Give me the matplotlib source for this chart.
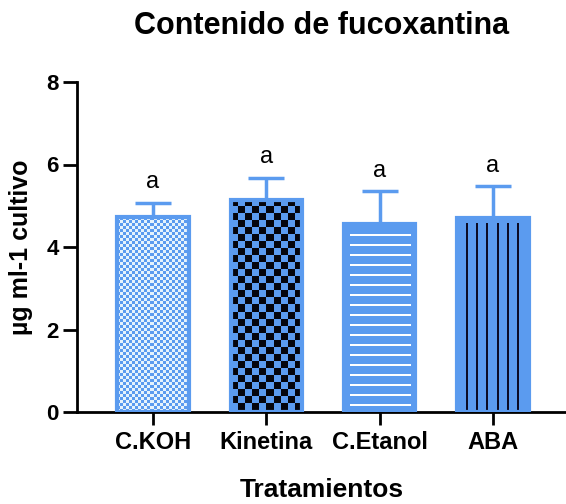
import numpy as np
import matplotlib
matplotlib.use('Agg')
import matplotlib.pyplot as plt
from matplotlib.colors import to_rgb

tratamientos = ['C.KOH', 'Kinetina', 'C.Etanol', 'ABA']
fucoxantina = [4.72, 5.14, 4.55, 4.70]
desviacion = [0.35, 0.54, 0.80, 0.77]
letras = ['a', 'a', 'a', 'a']
patrones = ['fino', 'grueso', 'horizontal', 'vertical']
marcas_y = [0, 2, 4, 6, 8]

azul = '#5B9BEF'
plt.rcParams['font.family'] = ['Liberation Sans', 'DejaVu Sans']


def textura(tipo, w, h):
    # relleno de cada barra, en pixeles (fila 0 = arriba)
    yy, xx = np.mgrid[0:h, 0:w]
    img = np.zeros((h, w, 3))
    img[:] = to_rgb(azul)
    if tipo == 'fino':
        m = ((xx // 3 + yy // 3) % 2 == 0)
        img[m] = to_rgb('#E6F3FC')
    elif tipo == 'grueso':
        m = ((xx // 7 + yy // 7) % 2 == 0)
        img[m] = (0.02, 0.02, 0.05)
    elif tipo == 'horizontal':
        m = ((yy % 10) < 2) & (yy > 8) & (xx > 5) & (xx < w - 5)
        img[m] = (1, 1, 1)
    elif tipo == 'vertical':
        m = (((xx - 9) % 10) < 2) & (xx > 7) & (yy > 4)
        img[m] = (0.05, 0.05, 0.15)
    return img


fig = plt.figure(figsize=(5.66, 5.04), dpi=100)
ax = fig.add_axes([76.7 / 566, 1 - 412 / 504, 1 - 76.7 / 566, 330 / 504])

x = np.arange(len(tratamientos))
ancho = 0.63
ax.set_xlim(-0.673, 3.645)
ax.set_ylim(0, 8)

barras = ax.bar(x, fucoxantina, width=ancho, facecolor='none', edgecolor=azul,
                linewidth=3, zorder=3)
ax.errorbar(x, fucoxantina, yerr=[np.zeros(len(x)), desviacion], fmt='none',
            ecolor=azul, elinewidth=2.5, capsize=13, capthick=2.5, zorder=2)

for barra, tipo in zip(barras, patrones):
    x0, x1 = barra.get_x(), barra.get_x() + barra.get_width()
    y1 = barra.get_height()
    p0 = ax.transData.transform((x0, 0))
    p1 = ax.transData.transform((x1, y1))
    w = int(round(p1[0] - p0[0]))
    h = int(round(p1[1] - p0[1]))
    ax.imshow(textura(tipo, w, h), extent=(x0, x1, 0, y1), origin='upper',
              interpolation='nearest', aspect='auto', zorder=2.5)

for xi, m, s, letra in zip(x, fucoxantina, desviacion, letras):
    ax.annotate(letra, (xi, m + s), xytext=(0, 7), textcoords='offset points',
                ha='center', va='bottom', fontsize=17)

ax.spines['top'].set_visible(False)
ax.spines['right'].set_visible(False)
ax.spines['left'].set_linewidth(2)
ax.spines['bottom'].set_linewidth(2)
ax.spines['left'].set_bounds(0, 8)

ax.set_yticks(marcas_y, labels=[str(v) for v in marcas_y],
              fontsize=16, fontweight='bold')
ax.set_xticks(x, labels=tratamientos, fontsize=17, fontweight='bold')
ax.tick_params(axis='y', length=10, width=2, pad=3)
ax.tick_params(axis='x', length=9, width=2, pad=5)

ax.set_ylabel('µg ml-1 cultivo', fontsize=18, fontweight='bold')
ax.yaxis.set_label_coords(-0.09, 0.5)
ax.set_xlabel('Tratamientos', fontsize=19, fontweight='bold')
ax.xaxis.set_label_coords(0.5, -0.2)

ax.text(0.5, 1.145, 'Contenido de fucoxantina', transform=ax.transAxes,
        ha='center', va='baseline', fontsize=22, fontweight='bold')

fig.savefig('out.png', dpi=100)
